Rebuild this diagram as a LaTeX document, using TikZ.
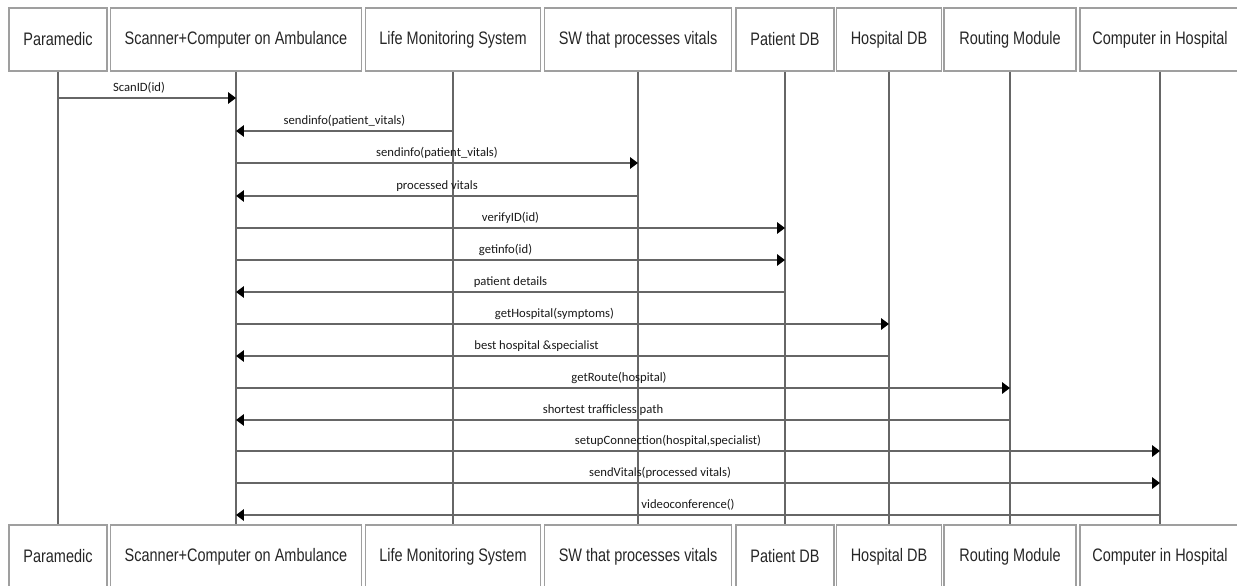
\documentclass[tikz,border=0pt]{standalone}
\usepackage{fontspec}
\usetikzlibrary{arrows.meta}
\newfontfamily\actorFont[FakeStretch=0.8]{Liberation Sans}
\newfontfamily\msgFont{Carlito}
\newcommand{\actorSty}{\actorFont\fontsize{10.3}{12}\selectfont}
\newcommand{\msgSty}{\msgFont\fontsize{7.2}{8}\selectfont}

% actor: name, x of lifeline, box width, text
\newcommand{\actor}[4]{%
    \node[actorbox, minimum width=#3*0.02cm] (#1top) at (#2,39.5) {#4};
    \node[actorbox, minimum width=#3*0.02cm] (#1bot) at (#2,556.5) {#4};
    \draw[lifeline] (#1top) -- (#1bot);
}
% message: [shift], from, to, y, label
\newcommand{\msg}[5][0]{%
    \draw[msgline] (#2top.south |- 0,#4) -- node[msglabel, xshift=#1*0.02cm] {\msgSty #5} (#3top.south |- 0,#4);
}

\begin{document}
\begin{tikzpicture}[x=0.02cm, y=-0.02cm,
    actorbox/.style={draw=gray!75, line width=0.9pt, inner sep=0pt, minimum height=63*0.02cm, font=\actorSty, text=black!85},
    lifeline/.style={draw=gray!80!black, line width=0.6pt},
    msgline/.style={draw=gray!80!black, line width=0.9pt, -{Triangle[color=black, length=4.5pt, width=6.5pt]}},
    msglabel/.style={anchor=south, inner sep=0pt, yshift=2pt, text=black!90}]

    % page
    \useasboundingbox (0,0) rectangle (1237,585);

    % actors and lifelines
    \actor{para}{58}{98}{Paramedic}
    \actor{scan}{236}{251}{Scanner+Computer on Ambulance}
    \actor{life}{453}{175}{Life Monitoring System}
    \actor{sw}{638}{187}{SW that processes vitals}
    \actor{pdb}{785}{98}{Patient DB}
    \actor{hdb}{889}{105}{Hospital DB}
    \actor{route}{1010}{132}{Routing Module}
    \actor{comp}{1160}{160}{Computer in Hospital}

    % messages
    \msg[-8]{para}{scan}{98}{ScanID(id)}
    \msg{life}{scan}{131}{sendinfo(patient\_vitals)}
    \msg{scan}{sw}{163}{sendinfo(patient\_vitals)}
    \msg{sw}{scan}{196}{processed vitals}
    \msg{scan}{pdb}{228}{verifyID(id)}
    \msg[-5]{scan}{pdb}{260}{getinfo(id)}
    \msg{pdb}{scan}{292}{patient details}
    \msg[-8]{scan}{hdb}{324}{getHospital(symptoms)}
    \msg[-26]{hdb}{scan}{356}{best hospital \&specialist}
    \msg[-4]{scan}{route}{388}{getRoute(hospital)}
    \msg[-20]{route}{scan}{420}{shortest trafficless path}
    \msg[-30]{scan}{comp}{451}{setupConnection(hospital,specialist)}
    \msg[-38]{scan}{comp}{483}{sendVitals(processed vitals)}
    \msg[-10]{comp}{scan}{515}{videoconference()}

\end{tikzpicture}
\end{document}
